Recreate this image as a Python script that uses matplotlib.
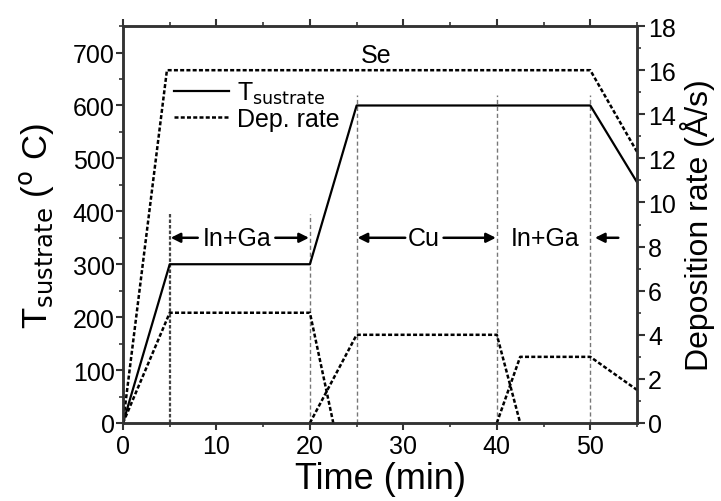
import matplotlib
matplotlib.use("Agg")
import matplotlib.pyplot as plt
from matplotlib.ticker import MultipleLocator
from matplotlib.lines import Line2D

plt.rcParams["font.family"] = ["Liberation Sans", "DejaVu Sans"]

# substrate temperature profile (left axis, deg C)
t_sub = [0, 5, 20, 25, 50, 55]
T_sub = [0, 300, 300, 600, 600, 455]

# deposition rates (right axis, A/s)
t_se = [0, 4.7, 50, 55]
r_se = [0, 16, 16, 12.3]
t_inga1 = [0, 5, 20, 22.5]
r_inga1 = [0, 5, 5, 0]
t_cu = [20, 25, 40, 42.5]
r_cu = [0, 4, 4, 0]
t_inga2 = [40, 42.5, 50, 55]
r_inga2 = [0, 3, 3, 1.5]

# stage boundaries (time, top in deg C)
stage_t = [5, 20, 25, 40, 50]
stage_top = [395, 395, 620, 620, 620]

dot = (0, (1.6, 0.9))
spine_c = "#333333"

fig = plt.figure(figsize=(7.21, 5.02), dpi=100)
ax = fig.add_axes([0.1706, 0.1554, 0.7129, 0.7906])
ax2 = ax.twinx()

for i, (tx, top) in enumerate(zip(stage_t, stage_top)):
    if i == 0:
        ax.plot([tx, tx], [0, top], color="#444444", lw=1.6, ls=dot, zorder=1)
    else:
        ax.plot([tx, tx], [0, top], color="#777777", lw=1.0, ls=(0, (3, 2)), zorder=1)

ax.plot(t_sub, T_sub, color="black", lw=1.6)

for tt, rr in [(t_se, r_se), (t_inga1, r_inga1), (t_cu, r_cu), (t_inga2, r_inga2)]:
    ax2.plot(tt, rr, color="black", lw=1.8, ls=dot)

ax.set_xlim(0, 55)
ax.set_ylim(0, 750)
ax2.set_ylim(0, 18)

# stage annotations
fs = 18
arr = dict(arrowstyle="-|>", lw=1.8, color="black", mutation_scale=14, shrinkA=0, shrinkB=0)
y_lab = 350
ax.text(12.2, y_lab, "In+Ga", fontsize=fs, ha="center", va="center")
ax.annotate("", xy=(5.1, y_lab), xytext=(8.0, y_lab), arrowprops=arr)
ax.annotate("", xy=(19.9, y_lab), xytext=(16.3, y_lab), arrowprops=arr)
ax.text(32.2, y_lab, "Cu", fontsize=fs, ha="center", va="center")
ax.annotate("", xy=(25.1, y_lab), xytext=(30.2, y_lab), arrowprops=arr)
ax.annotate("", xy=(39.9, y_lab), xytext=(34.3, y_lab), arrowprops=arr)
ax.text(45.2, y_lab, "In+Ga", fontsize=fs, ha="center", va="center")
ax.annotate("", xy=(50.5, y_lab), xytext=(53.0, y_lab), arrowprops=arr)
ax.text(27.1, 696, "Se", fontsize=fs, ha="center", va="center")

# legend
handles = [Line2D([], [], color="black", lw=1.6),
           Line2D([], [], color="black", lw=1.8, ls=dot)]
ax2.legend(handles, [r"T$_{\rm sustrate}$", "Dep. rate"], loc="upper left",
           bbox_to_anchor=(0.08, 0.89), frameon=False, fontsize=fs,
           handlelength=2.2, handletextpad=0.3, labelspacing=0.05, borderaxespad=0)

ax.set_xlabel("Time (min)", fontsize=26, labelpad=2)
ax.set_ylabel(r"T$_{\rm sustrate}$ ($^{\rm o}$ C)", fontsize=25, labelpad=12)
ax2.set_ylabel("Deposition rate (Å/s)", fontsize=23, labelpad=3)

ax.xaxis.set_major_locator(MultipleLocator(10))
ax.xaxis.set_minor_locator(MultipleLocator(5))
ax.yaxis.set_major_locator(MultipleLocator(100))
ax.yaxis.set_minor_locator(MultipleLocator(50))
ax2.yaxis.set_major_locator(MultipleLocator(2))
ax2.yaxis.set_minor_locator(MultipleLocator(1))

ax.tick_params(axis="x", which="both", direction="out", top=True, labelsize=fs, colors=spine_c,
               labelcolor="black", pad=3)
ax.tick_params(axis="x", which="major", length=5, width=1.5)
ax.tick_params(axis="x", which="minor", length=3, width=1.2)
ax.tick_params(axis="y", which="both", direction="out", labelsize=fs, colors=spine_c,
               labelcolor="black", pad=1)
ax.tick_params(axis="y", which="major", length=5, width=1.5)
ax.tick_params(axis="y", which="minor", length=3, width=1.2)
ax2.tick_params(axis="y", which="both", direction="out", labelsize=fs, colors=spine_c,
                labelcolor="black", pad=2)
ax2.tick_params(axis="y", which="major", length=6, width=1.5)
ax2.tick_params(axis="y", which="minor", length=3, width=1.2)

for a in (ax, ax2):
    for s in a.spines.values():
        s.set_color(spine_c)
        s.set_linewidth(1.8)

fig.savefig("out.png", dpi=100)
